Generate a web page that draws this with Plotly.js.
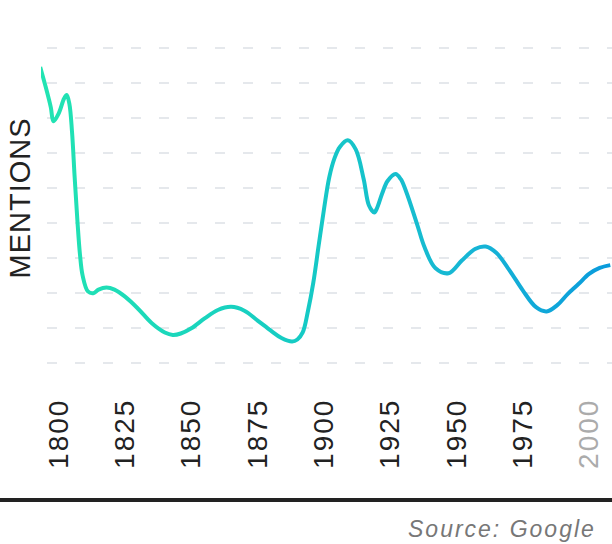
<!DOCTYPE html>
<html><head><meta charset="utf-8">
<script src="https://cdn.plot.ly/plotly-3.0.1.min.js"></script>
<style>html,body{margin:0;padding:0;background:#fff}#chart{width:612px;height:544px}</style>
</head><body><div id="chart"></div>
<script>
const years = [1793,1795,1797,1798,1800,1802,1803,1804,1805,1806,1807,1808,1809,1811,1813,1815,1818,1821,1825,1830,1835,1840,1843,1846,1850,1855,1860,1865,1870,1875,1880,1884,1888,1890,1892,1894,1896,1898,1900,1902,1904,1906,1909,1912,1915,1917,1919,1920,1922,1924,1927,1929,1931,1935,1938,1942,1947,1952,1957,1961,1965,1970,1975,1980,1984,1988,1992,1996,2000,2004,2008];
const mentions = [8.45,7.9,7.3,6.9,7.13,7.55,7.65,7.4,6.6,5.3,4.1,3.1,2.5,2.05,2.0,2.1,2.16,2.1,1.9,1.55,1.15,0.88,0.81,0.85,1.0,1.28,1.52,1.61,1.5,1.22,0.93,0.72,0.62,0.68,0.88,1.5,2.3,3.35,4.38,5.3,5.85,6.17,6.36,6.1,5.25,4.5,4.3,4.42,4.85,5.2,5.4,5.25,4.9,4.0,3.3,2.72,2.57,2.93,3.26,3.33,3.15,2.65,2.08,1.6,1.48,1.66,1.98,2.26,2.55,2.72,2.8];
const tickYears = [1800,1825,1850,1875,1900,1925,1950,1975,2000];
const tickLabels = ['1800','1825','1850','1875','1900','1925','1950','1975','<span style="color:#ababab">2000</span>'];
const gridLevels = [0,1,2,3,4,5,6,7,8,9];
const yTitle = 'MENTIONS';
const sourceText = 'Source: Google';

const font = 'Liberation Sans, Arial, Helvetica, sans-serif';
const trace = {
  x: years, y: mentions, type: 'scatter', mode: 'lines',
  line: {color: '#15c8c6', width: 4, shape: 'spline', smoothing: 1},
  hoverinfo: 'skip', showlegend: false
};
const layout = {
  width: 612, height: 544,
  margin: {l: 41, r: 0, t: 4, b: 152},
  paper_bgcolor: '#ffffff', plot_bgcolor: '#ffffff',
  xaxis: {
    range: [1793.3, 2008.65], tickvals: tickYears, ticktext: tickLabels,
    tickangle: -90, tickfont: {family: font, size: 28, color: '#222222'},
    showgrid: false, zeroline: false, showline: false, ticks: '', fixedrange: true
  },
  yaxis: {
    range: [-0.818, 10.246], tickvals: gridLevels, showticklabels: false,
    showgrid: true, gridcolor: '#e5e8ec', gridwidth: 2, griddash: '0px,6px,10px,12px',
    zeroline: false, showline: false, ticks: '', fixedrange: true,
    title: {text: yTitle, font: {family: font, size: 29, color: '#222222'}, standoff: 0}
  },
  shapes: [{type: 'line', xref: 'paper', yref: 'paper', x0: -41/571, x1: 1, y0: -0.2784, y1: -0.2784,
            line: {color: '#222222', width: 4}}],
  annotations: [{text: sourceText, xref: 'paper', yref: 'paper', x: 0.951, y: -0.3531,
                 xanchor: 'right', yanchor: 'middle', showarrow: false,
                 font: {family: font, size: 23, color: '#777777', style: 'italic'}}]
};
Plotly.newPlot('chart', [trace], layout, {displayModeBar: false, staticPlot: true}).then(gd => {
  const ns = 'http://www.w3.org/2000/svg';
  const svg = gd.querySelector('svg.main-svg');
  const defs = svg.querySelector('defs');
  const lg = document.createElementNS(ns, 'linearGradient');
  lg.setAttribute('id', 'lineGrad');
  lg.setAttribute('x1', '0'); lg.setAttribute('y1', '0');
  lg.setAttribute('x2', '1'); lg.setAttribute('y2', '0');
  [['0', '#22e4b2'], ['0.45', '#15cbc4'], ['0.75', '#17b6d5'], ['1', '#0a9bdc']].forEach(([o, c]) => {
    const s = document.createElementNS(ns, 'stop');
    s.setAttribute('offset', o); s.setAttribute('stop-color', c);
    lg.appendChild(s);
  });
  defs.appendChild(lg);
  gd.querySelectorAll('.scatterlayer .js-line').forEach(p => { p.style.stroke = 'url(#lineGrad)'; });
  gd.querySelectorAll('.xtick text').forEach(t => { t.style.letterSpacing = '2px'; });
  gd.querySelectorAll('.g-ytitle text').forEach(t => { t.style.letterSpacing = '1px'; });
  gd.querySelectorAll('.annotation-text').forEach(t => { t.style.letterSpacing = '2px'; });
});
</script>
</body></html>
